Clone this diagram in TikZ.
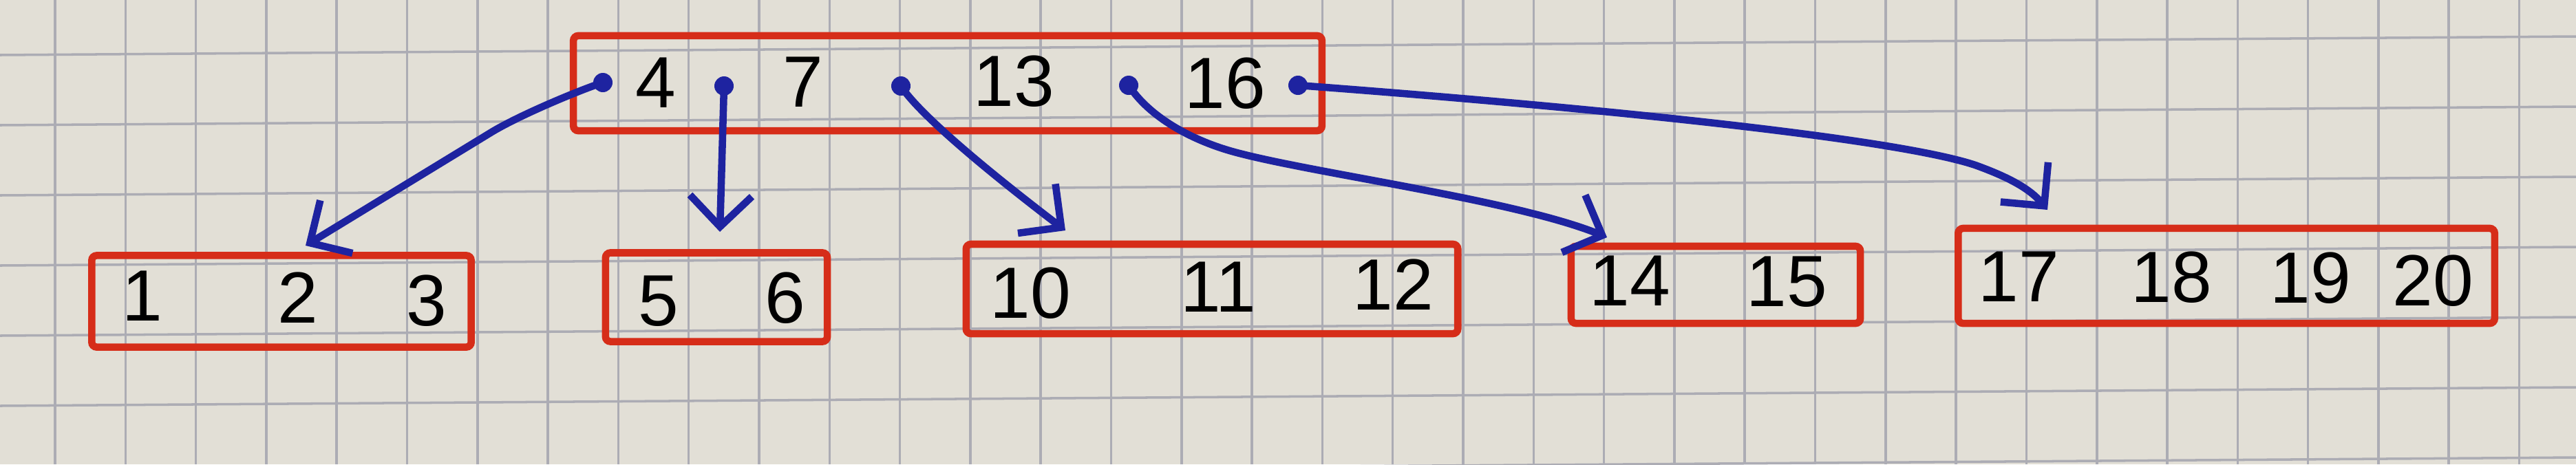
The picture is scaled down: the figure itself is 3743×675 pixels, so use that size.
\documentclass[tikz,border=0pt]{standalone}
\usepackage{fontspec}
\setmainfont{Liberation Sans}
\usetikzlibrary{arrows.meta}
\definecolor{paper}{RGB}{226,223,214}
\definecolor{gridc}{RGB}{172,172,180}
\definecolor{penred}{RGB}{214,45,25}
\definecolor{penblue}{RGB}{30,35,160}
\begin{document}
\begin{tikzpicture}[x=0.01cm,y=-0.01cm,
  box/.style={draw=penred, line width=3pt, rounded corners=2pt, inner sep=0pt},
  key/.style={font=\fontsize{30}{32}\selectfont, text=black, inner sep=0pt},
  ptr/.style={draw=penblue, line width=3pt, line cap=round, line join=round,
    -{Straight Barb[length=0.45cm,width=0.9cm]}},
  dot/.style={circle, fill=penblue, inner sep=0pt, minimum size=0.28cm},
  gridline/.style={draw=gridc, line width=1pt}]
\useasboundingbox (0,0) rectangle (3743,675);
\fill[paper] (0,0) rectangle (3743,675);
% grid paper
\foreach \k in {0,...,36} \draw[gridline] ({80+102.3*\k},0) -- ({80+102.3*\k},675);
\foreach \k in {0,...,7} \draw[gridline] (0,{-22+102*\k}) -- (3743,{-49+102*\k});
% root node
\node[box, minimum width=10.87cm, minimum height=1.38cm] (root) at (1377,121) {};
\node[key] (k4) at (953,120) {4};
\node[key] (k7) at (1167,119) {7};
\node[key] (k13) at (1473,118) {13};
\node[key] (k16) at (1780,121) {16};
% leaves
\node[box, minimum width=5.51cm, minimum height=1.33cm] (l1) at (409,438) {};
\node[key] (n1) at (207,430) {1};
\node[key] (n2) at (433,433) {2};
\node[key] (n3) at (620,437) {3};
\node[box, minimum width=3.22cm, minimum height=1.29cm] (l2) at (1041,432) {};
\node[key] (n5) at (957,438) {5};
\node[key] (n6) at (1141,433) {6};
\node[box, minimum width=7.14cm, minimum height=1.30cm] (l3) at (1761,420) {};
\node[key] (n10) at (1497,426) {10};
\node[key] (n11) at (1770,417) {11};
\node[key] (n12) at (2024,414) {12};
\node[box, minimum width=4.20cm, minimum height=1.12cm] (l4) at (2493,414) {};
\node[key] (n14) at (2368,408) {14};
\node[key] (n15) at (2596,410) {15};
\node[box, minimum width=7.79cm, minimum height=1.38cm] (l5) at (3235,401) {};
\node[key] (n17) at (2933,402) {17};
\node[key] (n18) at (3155,403) {18};
\node[key] (n19) at (3357,404) {19};
\node[key] (n20) at (3535,408) {20};
% pointer dots
\node[dot] (d1) at (876,120) {};
\node[dot] (d2) at (1052,125) {};
\node[dot] (d3) at (1309,125) {};
\node[dot] (d4) at (1640,124) {};
\node[dot] (d5) at (1886,124) {};
% arrow tips
\coordinate (t1) at (444,357);
\coordinate (t2) at (1046,337);
\coordinate (t3) at (1548,335);
\coordinate (t4) at (2335,345);
\coordinate (t5) at (2975,305);
% pointers
\draw[ptr] (d1.center) .. controls (845,130) and (760,165) .. (716,191) -- (t1);
\draw[ptr] (d2.center) -- (t2);
\draw[ptr] (d3.center) .. controls (1335,165) and (1430,245) .. (t3);
\draw[ptr] (d4.center) .. controls (1670,170) and (1730,203) .. (1790,220)
  .. controls (1900,251) and (2200,290) .. (t4);
\draw[ptr] (d5.center) .. controls (2300,155) and (2750,200) .. (2870,240)
  .. controls (2920,258) and (2950,275) .. (t5);
\end{tikzpicture}
\end{document}
